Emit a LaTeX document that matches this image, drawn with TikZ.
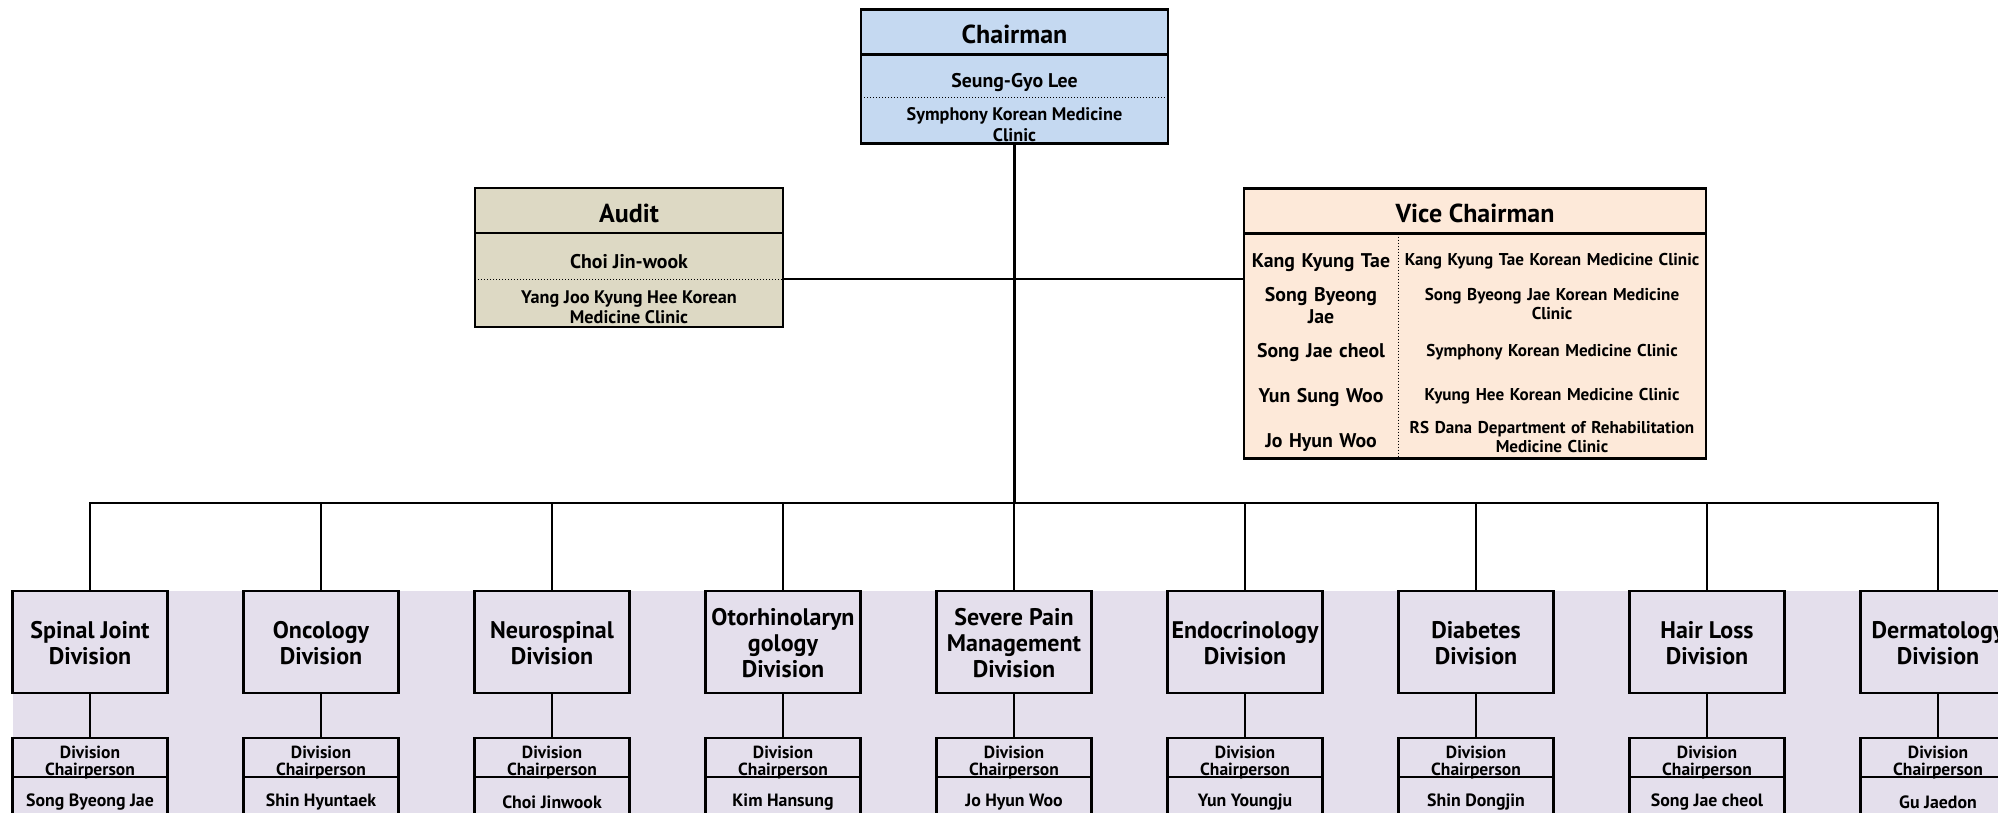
\documentclass[tikz,border=0pt]{standalone}
\usepackage{fontspec}
\setmainfont{PT Sans}
\usepackage{xcolor}
\definecolor{chairblue}{HTML}{C5D9F1}
\definecolor{audittan}{HTML}{DDD9C4}
\definecolor{vicepeach}{HTML}{FDE9D9}
\definecolor{divlilac}{HTML}{E4DFEC}
\usetikzlibrary{positioning}
\pgfdeclarelayer{background}
\pgfsetlayers{background,main}
\newcommand{\division}[4]{
\node (Div#1) [divbox, #2]{};
\node (DivTitle#1) [divtitle, yshift=-1.5pt] at (Div#1.center) {#3};
\node (DivHead#1) [divhead, below=45pt of Div#1]{};
\node (DivHeadText#1) [headtext, yshift=-5pt] at (DivHead#1.center) {Division\\Chairperson};
\node (DivName#1) [divname, below=0pt of DivHead#1]{#4};}
\tikzset{dropby/.style={execute at begin node={\rule{0pt}{#1}}}}
\tikzstyle{cellbase}=[rectangle, inner sep=0pt, outer sep=0pt, align=center]
\tikzstyle{orgbox}=[cellbase, draw=black, line width=2.4pt]
\tikzstyle{titlebox}=[orgbox, font=\fontsize{26}{29}\selectfont\bfseries, minimum height=45pt, dropby=24pt]
\tikzstyle{chairman}=[titlebox, fill=chairblue, minimum width=307pt]
\tikzstyle{audit}=[titlebox, fill=audittan, minimum width=308pt]
\tikzstyle{vice}=[titlebox, fill=vicepeach, minimum width=462pt]
\tikzstyle{namecell}=[cellbase, font=\fontsize{19.8}{22}\selectfont\bfseries]
\tikzstyle{clinic}=[cellbase, font=\fontsize{18.2}{20.5}\selectfont\bfseries, yshift=-4pt]
\tikzstyle{vicename}=[namecell, text width=154pt, minimum width=154pt, minimum height=45pt]
\tikzstyle{viceclinic}=[cellbase, font=\fontsize{17.1}{18.5}\selectfont\bfseries, text width=306pt, minimum width=308pt, minimum height=45pt]
\tikzstyle{divbox}=[orgbox, fill=divlilac, minimum width=155pt, minimum height=102pt]
\tikzstyle{divtitle}=[cellbase, font=\fontsize{24}{26}\selectfont\bfseries]
\tikzstyle{divhead}=[orgbox, minimum width=155pt, minimum height=39pt]
\tikzstyle{headtext}=[cellbase, font=\fontsize{17.5}{17.7}\selectfont\bfseries]
\tikzstyle{divname}=[orgbox, minimum width=155pt, minimum height=46pt, font=\fontsize{17.8}{20}\selectfont\bfseries, dropby=17pt]
\tikzstyle{line}=[line width=2.4pt]
\tikzstyle{dotline}=[line width=1pt, dash pattern=on 1pt off 2pt]

\begin{document}
\begin{tikzpicture}[x=1pt, y=-1pt, node distance=76pt]
\useasboundingbox (0,0) rectangle (1998,812);
\clip (0,0) rectangle (1998,812);

% top of the chart
\node (Chairman) [chairman] at (1014.5,32) {Chairman};
\node (ChairmanBody) [orgbox, fill=chairblue, minimum width=307pt, minimum height=89pt, below=0pt of Chairman] {};
\node (ChairmanName) [namecell, dropby=27pt, minimum width=307pt, minimum height=43pt, anchor=north] at (ChairmanBody.north) {Seung-Gyo Lee};
\node (ChairmanClinic) [clinic, minimum width=307pt, minimum height=46pt, below=0pt of ChairmanName] {Symphony Korean Medicine\\Clinic};
\draw[dotline] (ChairmanName.south west) -- (ChairmanName.south east);

\node (Audit) [audit] at (629,210.5) {Audit};
\node (AuditBody) [orgbox, fill=audittan, minimum width=308pt, minimum height=94pt, below=0pt of Audit] {};
\node (AuditName) [namecell, dropby=25pt, minimum width=308pt, minimum height=46pt, anchor=north] at (AuditBody.north) {Choi Jin-wook};
\node (AuditClinic) [clinic, minimum width=308pt, minimum height=48pt, below=0pt of AuditName] {Yang Joo Kyung Hee Korean\\Medicine Clinic};
\draw[dotline] (AuditName.south west) -- (AuditName.south east);

\node (Vice) [vice] at (1475,211) {Vice Chairman};
\node (ViceBody) [orgbox, fill=vicepeach, minimum width=462pt, minimum height=225pt, below=0pt of Vice] {};
\node (ViceName1) [vicename, dropby=22pt, anchor=north west] at ([yshift=-3pt]ViceBody.north west) {Kang Kyung Tae};
\node (ViceName2) [vicename, below=45pt of ViceName1.north, yshift=-2pt] {Song Byeong\\Jae};
\node (ViceName3) [vicename, dropby=22pt, below=90pt of ViceName1.north] {Song Jae cheol};
\node (ViceName4) [vicename, dropby=22pt, below=0pt of ViceName3] {Yun Sung Woo};
\node (ViceName5) [vicename, dropby=22pt, below=0pt of ViceName4] {Jo Hyun Woo};
\node (ViceClinic1) [viceclinic, dropby=16.5pt, right=0pt of ViceName1] {Kang Kyung Tae Korean Medicine Clinic};
\node (ViceClinic2) [viceclinic, right=0pt of ViceName2, yshift=2pt] {Song Byeong Jae Korean Medicine\\Clinic};
\node (ViceClinic3) [viceclinic, dropby=18pt, right=0pt of ViceName3] {Symphony Korean Medicine Clinic};
\node (ViceClinic4) [viceclinic, dropby=17pt, right=0pt of ViceName4] {Kyung Hee Korean Medicine Clinic};
\node (ViceClinic5) [viceclinic, right=0pt of ViceName5, yshift=2pt] {RS Dana Department of Rehabilitation\\Medicine Clinic};
\draw[dotline] (ViceName1.east |- ViceBody.north) -- (ViceName1.east |- ViceBody.south);

% divisions
\division{1}{at={(90,642)}}{Spinal Joint\\Division}{Song Byeong Jae}
\division{2}{right=of Div1}{Oncology\\Division}{Shin Hyuntaek}
\division{3}{right=of Div2}{Neurospinal\\Division}{Choi Jinwook}
\division{4}{right=of Div3}{Otorhinolaryn\\gology\\Division}{Kim Hansung}
\division{5}{right=of Div4}{Severe Pain\\Management\\Division}{Jo Hyun Woo}
\division{6}{right=of Div5}{Endocrinology\\Division}{Yun Youngju}
\division{7}{right=of Div6}{Diabetes\\Division}{Shin Dongjin}
\division{8}{right=of Div7}{Hair Loss\\Division}{Song Jae cheol}
\division{9}{right=of Div8}{Dermatology\\Division}{Gu Jaedon}

\begin{pgfonlayer}{background}
\fill[divlilac] (Div1.north west) rectangle (DivName9.south east);
\end{pgfonlayer}

% draw lines
\coordinate (Bus) at (ChairmanBody.south |- 0,503);
\draw[line] (ChairmanBody.south) -- (Bus);
\draw[line] (AuditName.south east) -- (AuditName.south east -| ViceBody.west);
\draw[line] (Div1.north) -- (Div1.north |- Bus) -- (Div9.north |- Bus) -- (Div9.north);
\foreach \i in {2,...,8}
  \draw[line] (Div\i.north) -- (Div\i.north |- Bus);
\foreach \i in {1,...,9}
  \draw[line] (Div\i.south) -- (DivHead\i.north);

\end{tikzpicture}
\end{document}
